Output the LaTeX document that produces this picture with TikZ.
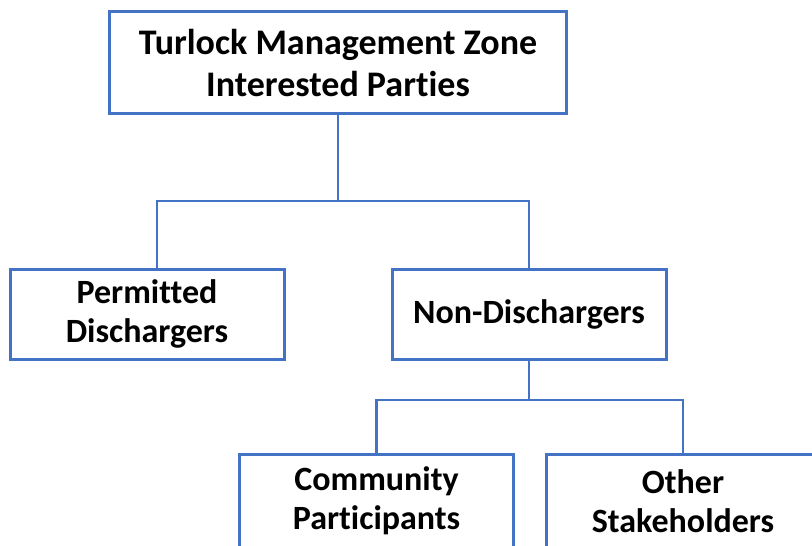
\documentclass[tikz,border=0pt]{standalone}
\usepackage{fontspec}
\setmainfont{Carlito}[Ligatures=NoCommon]
\definecolor{boxblue}{RGB}{68,114,196}

\begin{document}
\begin{tikzpicture}[x=0.75pt,y=-0.75pt,
    party/.style={draw=boxblue, line width=2.25pt, fill=white, align=center,
        inner sep=0pt, font=\fontsize{25.5}{29.25}\selectfont\bfseries},
    link/.style={draw=boxblue, line width=1.6pt}]
            \useasboundingbox (0,0) rectangle (812,545);
            \clip (0,0) rectangle (812,545);
            \node [party, minimum width=342.75pt, minimum height=76.5pt, font=\fontsize{27}{31.5}\selectfont\bfseries] (tmz) at (338,63) {Turlock Management Zone\\Interested Parties};
            \node [party, minimum width=205.5pt, minimum height=67.5pt] (permitted) at (147,314) {Permitted\\Dischargers};
            \node [party, minimum width=205.5pt, minimum height=67.5pt] (nondis) at (529,314) {Non-Dischargers};
            \node [party, minimum width=205.5pt, minimum height=70.5pt] (community) at (376.5,501) {Community\\Participants};
            \node [party, minimum width=205.5pt, minimum height=70.5pt] (other) at (683,501) {Other\\Stakeholders};
            \coordinate (split1) at (338,201);
            \coordinate (split2) at (529,400);
            \draw [link] (tmz.south) -- (split1);
            \draw [link] ([xshift=7.5pt]permitted.north) |- (split1) -| (nondis.north);
            \draw [link] (nondis.south) -- (split2);
            \draw [link] (community.north) |- (split2) -| (other.north);
            \end{tikzpicture}
\end{document}
